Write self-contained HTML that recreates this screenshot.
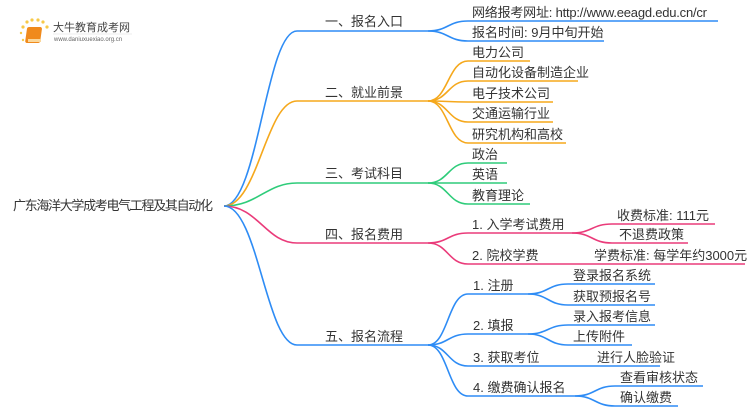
<!DOCTYPE html>
<html><head><meta charset="utf-8"><style>
html,body{margin:0;padding:0;background:#fff;}
svg{display:block;}
text{font-family:"Liberation Sans","Noto Sans CJK SC",sans-serif;font-size:13px;fill:#333;}
</style></head><body>
<svg width="750" height="410" viewBox="0 0 750 410" xmlns="http://www.w3.org/2000/svg">
<g fill="none" stroke-width="1.6">
<path d="M224 206 C258 206 266 31 297 31 H428" stroke="#2e8cf5"/>
<path d="M224 206 C258 206 266 101 297 101 H428" stroke="#f5a81c"/>
<path d="M224 206 C258 206 266 183 297 183 H428" stroke="#2ecc7a"/>
<path d="M224 206 C258 206 266 243 297 243 H428" stroke="#ea3b7a"/>
<path d="M224 206 C258 206 266 345 297 345 H428" stroke="#2e8cf5"/>
<path d="M428 31 C448 31 448 21 468 21 H718" stroke="#2e8cf5"/>
<path d="M428 31 C448 31 448 41 468 41 H604" stroke="#2e8cf5"/>
<g stroke="#f5a81c">
<path d="M428 101 C448 101 448 61 468 61 H530"/>
<path d="M428 101 C448 101 448 81 468 81 H578"/>
<path d="M428 101 C448 101 448 102 468 102 H553"/>
<path d="M428 101 C448 101 448 122 468 122 H553"/>
<path d="M428 101 C448 101 448 143 468 143 H566"/>
</g>
<g stroke="#2ecc7a">
<path d="M428 183 C448 183 448 163 468 163 H507"/>
<path d="M428 183 C448 183 448 183 468 183 H507"/>
<path d="M428 183 C448 183 448 204 468 204 H530"/>
</g>
<g stroke="#ea3b7a">
<path d="M428 243 C448 243 448 233 468 233 H572"/>
<path d="M428 243 C448 243 448 264 468 264 H745"/>
<path d="M572 233 C592 233 592 224 612 224 H715"/>
<path d="M572 233 C592 233 592 243 612 243 H688"/>
</g>
<g stroke="#2e8cf5">
<path d="M428 345 C448 345 448 294 468 294 H528"/>
<path d="M428 345 C448 345 448 334 468 334 H528"/>
<path d="M428 345 C448 345 448 366 468 366 H660"/>
<path d="M428 345 C448 345 448 396 468 396 H575"/>
<path d="M528 294 C548 294 548 284 568 284 H655"/>
<path d="M528 294 C548 294 548 305 568 305 H655"/>
<path d="M528 334 C548 334 548 325 568 325 H655"/>
<path d="M528 334 C548 334 548 345 568 345 H632"/>
<path d="M575 396 C595 396 595 386 615 386 H703"/>
<path d="M575 396 C595 396 595 406 615 406 H678"/>
</g>
</g>
<g>
<circle cx="23" cy="27" r="1.6" fill="#f7c948"/><circle cx="27" cy="22" r="1.6" fill="#f7c948"/><circle cx="32" cy="20" r="1.6" fill="#f7c948"/><circle cx="38" cy="20" r="1.6" fill="#f7c948"/><circle cx="43" cy="22" r="1.6" fill="#f7c948"/><circle cx="47" cy="27" r="1.6" fill="#f7c948"/><circle cx="21" cy="33" r="1.2" fill="#f7c948"/><circle cx="23" cy="40" r="1.2" fill="#f7c948"/>
<rect x="31" y="27" width="15" height="16" rx="2" fill="#f08a1c" transform="skewX(-8)"/>
<rect x="28" y="39" width="13" height="3" fill="#fbd79a"/>
<text x="53" y="31" style="font-size:11px;fill:#444;">大牛教育成考网</text>
<line x1="53" y1="34" x2="132" y2="34" stroke="#ddd" stroke-width="0.6"/>
<text x="54" y="41" style="font-size:6px;fill:#666;">www.daniuxuexiao.org.cn</text>
</g>
<text x="13" y="210" textLength="200">广东海洋大学成考电气工程及其自动化</text>
<text x="325" y="26">一、报名入口</text>
<text x="325" y="97">二、就业前景</text>
<text x="325" y="178">三、考试科目</text>
<text x="325" y="239">四、报名费用</text>
<text x="325" y="341">五、报名流程</text>
<text x="472" y="17" textLength="235">网络报考网址: http://www.eeagd.edu.cn/cr</text>
<text x="472" y="37">报名时间: 9月中旬开始</text>
<text x="472" y="57">电力公司</text>
<text x="472" y="77">自动化设备制造企业</text>
<text x="472" y="98">电子技术公司</text>
<text x="472" y="118">交通运输行业</text>
<text x="472" y="139">研究机构和高校</text>
<text x="472" y="159">政治</text>
<text x="472" y="179">英语</text>
<text x="472" y="200">教育理论</text>
<text x="472" y="229">1. 入学考试费用</text>
<text x="472" y="260">2. 院校学费</text>
<text x="617" y="220">收费标准: 111元</text>
<text x="619" y="239">不退费政策</text>
<text x="594" y="260">学费标准: 每学年约3000元</text>
<text x="473" y="290">1. 注册</text>
<text x="473" y="330">2. 填报</text>
<text x="473" y="362">3. 获取考位</text>
<text x="473" y="392">4. 缴费确认报名</text>
<text x="573" y="280">登录报名系统</text>
<text x="573" y="301">获取预报名号</text>
<text x="573" y="321">录入报考信息</text>
<text x="573" y="341">上传附件</text>
<text x="597" y="362">进行人脸验证</text>
<text x="620" y="382">查看审核状态</text>
<text x="620" y="402">确认缴费</text>
</svg>
</body></html>
